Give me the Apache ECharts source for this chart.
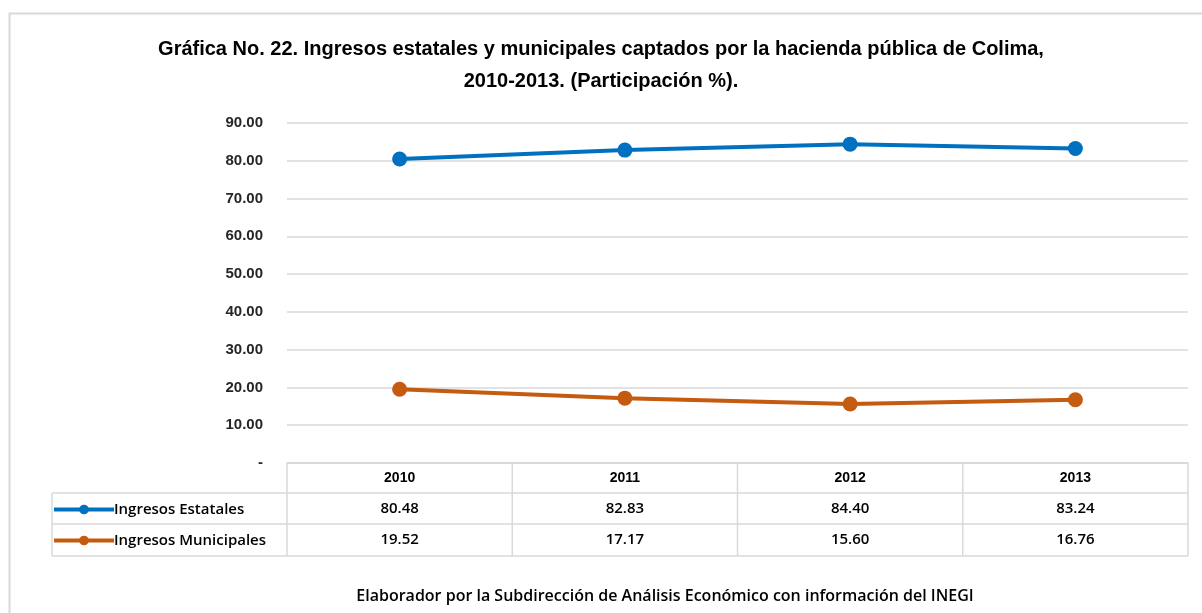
<!DOCTYPE html>
<html>
<head>
<meta charset="utf-8">
<script src="https://cdn.jsdelivr.net/npm/echarts@6/dist/echarts.min.js"></script>
<style>
  html, body { margin: 0; padding: 0; background: #fff; }
  #chart { width: 1202px; height: 613px; }
</style>
</head>
<body>
<div id="chart"></div>
<script>
// Datos
const years = ['2010', '2011', '2012', '2013'];
const estatales = [80.48, 82.83, 84.40, 83.24];
const municipales = [19.52, 17.17, 15.60, 16.76];
const seriesNames = ['Ingresos Estatales', 'Ingresos Municipales'];
const colors = ['#0070C0', '#C55A11'];

const FONT = '"Liberation Sans", sans-serif';
const FONT2 = '"Open Sans", sans-serif';
const chart = echarts.init(document.getElementById('chart'));

const option = {
  backgroundColor: '#fff',
  animation: false,
  title: {
    text: 'Gráfica No. 22. Ingresos estatales y municipales captados por la hacienda pública de Colima,\n2010-2013. (Participación %).',
    left: 'center',
    top: 28,
    textStyle: { fontFamily: FONT, fontSize: 20, fontWeight: 'bold', color: '#000', lineHeight: 32, align: 'center' }
  },
  grid: { left: 287, right: 14, top: 123, bottom: 150 },
  xAxis: {
    type: 'category',
    data: years,
    boundaryGap: true,
    axisLine: { show: true, lineStyle: { color: '#d9d9d9', width: 1.5 } },
    axisTick: { show: false },
    axisLabel: { show: false }
  },
  yAxis: {
    type: 'value',
    min: 0,
    max: 90,
    interval: 10,
    axisLine: { show: false },
    axisTick: { show: false },
    splitLine: { lineStyle: { color: '#d9d9d9', width: 1.5 } },
    axisLabel: {
      margin: 24,
      fontFamily: FONT,
      fontSize: 15,
      fontWeight: 'bold',
      color: '#262626',
      formatter: v => (v === 0 ? '-' : v.toFixed(2))
    }
  },
  legend: {
    orient: 'vertical',
    left: 52,
    top: 500,
    padding: 0,
    itemGap: 16,
    itemWidth: 60,
    itemHeight: 12,
    data: seriesNames,
    lineStyle: { width: 4 },
    textStyle: { fontFamily: FONT2, fontSize: 15, fontWeight: 600, color: '#000', padding: [0, 0, 0, -5] }
  },
  series: [
    {
      name: seriesNames[0], type: 'line', data: estatales,
      symbol: 'circle', symbolSize: 15,
      lineStyle: { width: 4, color: colors[0] }, itemStyle: { color: colors[0] }
    },
    {
      name: seriesNames[1], type: 'line', data: municipales,
      symbol: 'circle', symbolSize: 15,
      lineStyle: { width: 4, color: colors[1] }, itemStyle: { color: colors[1] }
    }
  ]
};
chart.setOption(option);

// Tabla de datos bajo la gráfica
const xs = years.map(y => chart.convertToPixel({ xAxisIndex: 0 }, y));
const band = xs[1] - xs[0];
const tblLeftX = xs[0] - band / 2;
const tblRightX = xs[xs.length - 1] + band / 2;
const tblTopY = chart.convertToPixel({ yAxisIndex: 0 }, 0);
const rowTops = [tblTopY, tblTopY + 30, tblTopY + 61, tblTopY + 93];
const labelLeft = 52;
const gridLine = { stroke: '#d9d9d9', lineWidth: 1.5 };
const g = [];

// borde exterior
g.push({ type: 'rect', left: 7, top: 11, shape: { width: 1300, height: 700 }, style: { fill: 'none', stroke: '#d9d9d9', lineWidth: 2 }, z: 0 });

// líneas horizontales
g.push({ type: 'line', shape: { x1: tblLeftX, y1: rowTops[0], x2: tblRightX, y2: rowTops[0] }, style: gridLine });
for (let i = 1; i < rowTops.length; i++) {
  g.push({ type: 'line', shape: { x1: labelLeft, y1: rowTops[i], x2: tblRightX, y2: rowTops[i] }, style: gridLine });
}
// líneas verticales
g.push({ type: 'line', shape: { x1: labelLeft, y1: rowTops[1], x2: labelLeft, y2: rowTops[3] }, style: gridLine });
for (let i = 0; i <= years.length; i++) {
  const x = tblLeftX + i * band;
  g.push({ type: 'line', shape: { x1: x, y1: rowTops[0], x2: x, y2: rowTops[3] }, style: gridLine });
}
// encabezados
years.forEach((y, i) => {
  g.push({ type: 'text', x: xs[i], y: (rowTops[0] + rowTops[1]) / 2, style: { text: y, font: 'bold 14px ' + FONT, fill: '#000', align: 'center', verticalAlign: 'middle' } });
});
// valores
[estatales, municipales].forEach((vals, r) => {
  vals.forEach((v, i) => {
    g.push({ type: 'text', x: xs[i], y: (rowTops[r + 1] + rowTops[r + 2]) / 2, style: { text: v.toFixed(2), font: '600 15px ' + FONT2, fill: '#000', align: 'center', verticalAlign: 'middle' } });
  });
});
// nota al pie
g.push({ type: 'text', x: 665, y: 596, style: { text: 'Elaborador por la Subdirección de Análisis Económico con información del INEGI', font: '600 16px ' + FONT2, fill: '#000', align: 'center', verticalAlign: 'middle' } });

chart.setOption({ graphic: g, legend: { top: rowTops[1] + 9 } });
</script>
</body>
</html>
